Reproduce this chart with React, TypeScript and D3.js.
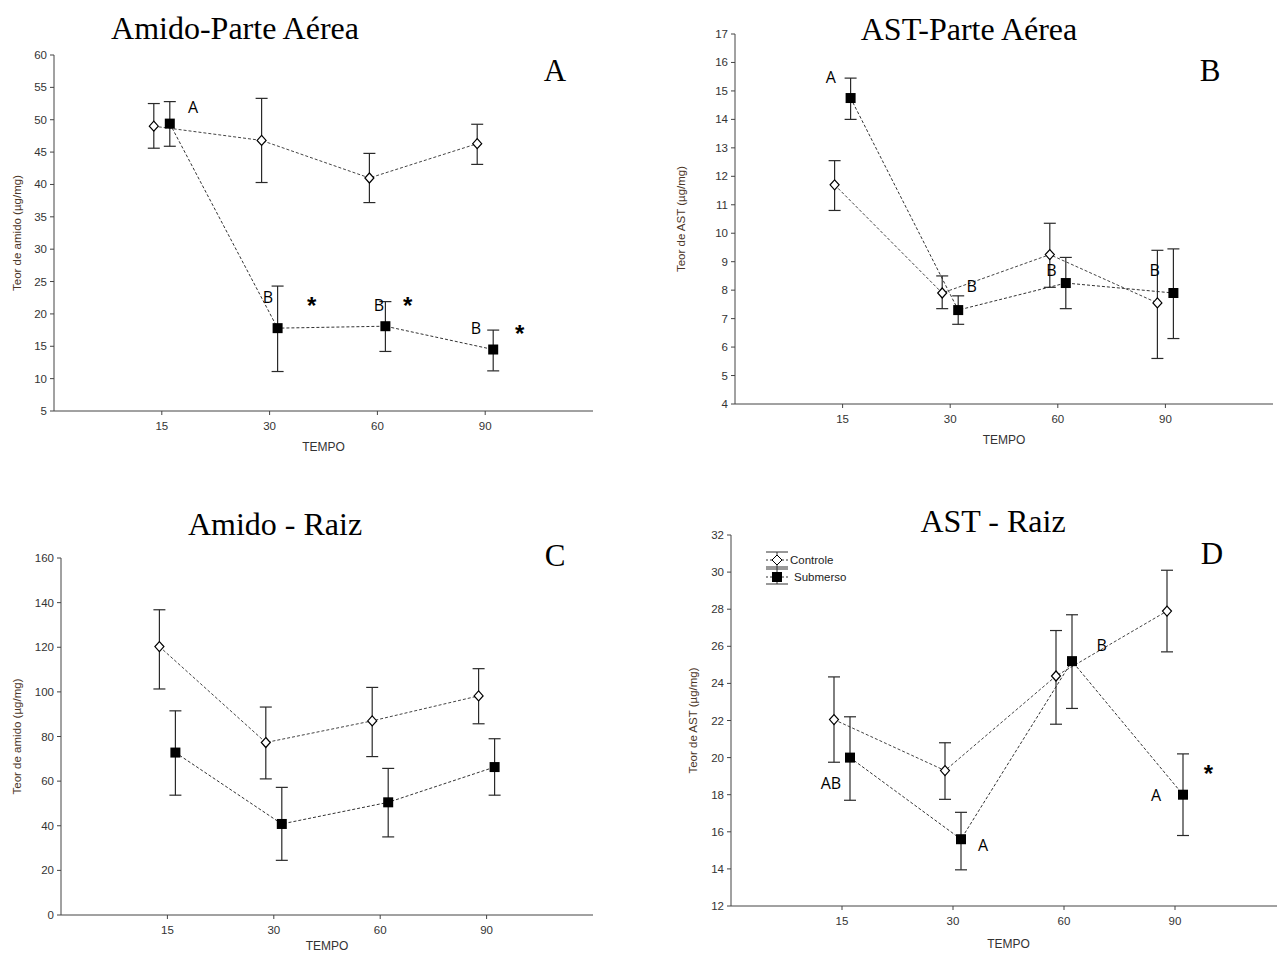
import React from "react";
import * as d3 from "d3";

// tempo (dias)
const days = ["15", "30", "60", "90"];

// A - Amido, parte aérea
const amidoAereaCtrl = [49.0, 46.8, 41.0, 46.3];
const amidoAereaCtrlLo = [45.6, 40.3, 37.2, 43.1];
const amidoAereaCtrlHi = [52.5, 53.3, 44.8, 49.3];
const amidoAereaSub = [49.4, 17.8, 18.1, 14.5];
const amidoAereaSubLo = [45.9, 11.1, 14.2, 11.2];
const amidoAereaSubHi = [52.8, 24.3, 21.9, 17.5];

// B - AST, parte aérea
const astAereaCtrl = [11.7, 7.9, 9.25, 7.55];
const astAereaCtrlLo = [10.8, 7.35, 8.1, 5.6];
const astAereaCtrlHi = [12.55, 8.5, 10.35, 9.4];
const astAereaSub = [14.75, 7.3, 8.25, 7.9];
const astAereaSubLo = [14.0, 6.8, 7.35, 6.3];
const astAereaSubHi = [15.45, 7.8, 9.15, 9.45];

// C - Amido, raiz
const amidoRaizCtrl = [120.3, 77.3, 87.0, 98.2];
const amidoRaizCtrlLo = [101.3, 61.0, 71.0, 85.7];
const amidoRaizCtrlHi = [136.8, 93.2, 102.0, 110.4];
const amidoRaizSub = [72.8, 40.8, 50.5, 66.3];
const amidoRaizSubLo = [53.7, 24.5, 35.0, 53.7];
const amidoRaizSubHi = [91.5, 57.2, 65.7, 79.0];

// D - AST, raiz
const astRaizCtrl = [22.05, 19.3, 24.4, 27.9];
const astRaizCtrlLo = [19.75, 17.75, 21.8, 25.7];
const astRaizCtrlHi = [24.35, 20.8, 26.85, 30.1];
const astRaizSub = [20.0, 15.6, 25.2, 18.0];
const astRaizSubLo = [17.7, 13.95, 22.65, 15.8];
const astRaizSubHi = [22.2, 17.05, 27.7, 20.2];

// letras / asteriscos: [posição no eixo x (categoria), valor y, texto]
const notesA: [number, number, string][] = [
  [1.29, 52, "A"], [1.985, 22.6, "B"], [2.39, 21.7, "*"],
  [3.015, 21.4, "B"], [3.28, 21.7, "*"], [3.915, 17.8, "B"], [4.32, 17.5, "*"],
];
const notesB: [number, number, string][] = [
  [0.89, 15.49, "A"], [2.2, 8.15, "B"], [2.94, 8.71, "B"], [3.9, 8.71, "B"],
];
const notesC: [number, number, string][] = [];
const notesD: [number, number, string][] = [
  [0.9, 18.63, "AB"], [2.27, 15.29, "A"], [3.34, 26.07, "B"],
  [3.83, 17.98, "A"], [4.3, 19.33, "*"],
];

const serif = "'Liberation Serif', 'Times New Roman', serif";
const sans = "'Liberation Sans', Arial, sans-serif";

type PanelProps = {
  left: number; right: number; top: number; bottom: number;
  yDomain: [number, number]; yStep: number;
  title: string; titleX: number; titleY: number;
  letter: string; letterX: number; letterY: number;
  yLabel: string; yLabelX: number; xLabelDy: number;
  ctrl: number[]; ctrlLo: number[]; ctrlHi: number[];
  sub: number[]; subLo: number[]; subHi: number[];
  notes: [number, number, string][];
};

const Panel = (p: PanelProps) => {
  const x = d3.scaleLinear().domain([0, 5]).range([p.left, p.right]);
  const y = d3.scaleLinear().domain(p.yDomain).range([p.bottom, p.top]);
  const yTicks = d3.range(p.yDomain[0], p.yDomain[1] + 0.001, p.yStep);
  const off = 8;
  const line = d3.line<[number, number]>().x(d => d[0]).y(d => d[1]);
  const ctrlPts = p.ctrl.map((v, i) => [x(i + 1) - off, y(v)] as [number, number]);
  const subPts = p.sub.map((v, i) => [x(i + 1) + off, y(v)] as [number, number]);
  const cap = 6;

  const errBars = (pts: [number, number][], lo: number[], hi: number[]) =>
    pts.map((pt, i) => (
      <g key={i} stroke="#2a2a2a" strokeWidth={1.2}>
        <line x1={pt[0]} x2={pt[0]} y1={y(lo[i])} y2={y(hi[i])} />
        <line x1={pt[0] - cap} x2={pt[0] + cap} y1={y(lo[i])} y2={y(lo[i])} />
        <line x1={pt[0] - cap} x2={pt[0] + cap} y1={y(hi[i])} y2={y(hi[i])} />
      </g>
    ));

  return (
    <g>
      <text x={p.titleX} y={p.titleY} textAnchor="middle" fontFamily={serif} fontSize={32} fill="#000">{p.title}</text>
      <text x={p.letterX} y={p.letterY} textAnchor="middle" fontFamily={serif} fontSize={31} fill="#000">{p.letter}</text>

      {/* eixos */}
      <line x1={p.left} x2={p.left} y1={p.top} y2={p.bottom} stroke="#444" />
      <line x1={p.left} x2={p.right} y1={p.bottom} y2={p.bottom} stroke="#444" />
      {yTicks.map(t => (
        <g key={t}>
          <line x1={p.left - 4} x2={p.left} y1={y(t)} y2={y(t)} stroke="#444" />
          <text x={p.left - 7} y={y(t)} dy="0.35em" textAnchor="end" fontFamily={sans} fontSize={11.5} fill="#333">{t}</text>
        </g>
      ))}
      {days.map((d, i) => (
        <g key={d}>
          <line x1={x(i + 1)} x2={x(i + 1)} y1={p.bottom} y2={p.bottom + 4} stroke="#444" />
          <text x={x(i + 1)} y={p.bottom + 19} textAnchor="middle" fontFamily={sans} fontSize={11.5} fill="#333">{d}</text>
        </g>
      ))}
      <text x={x(2.5)} y={p.bottom + p.xLabelDy} textAnchor="middle" fontFamily={sans} fontSize={12} fill="#333">TEMPO</text>
      <text transform={`translate(${p.yLabelX},${(p.top + p.bottom) / 2}) rotate(-90)`} textAnchor="middle" fontFamily={sans} fontSize={11.5} fill="#4a3526">{p.yLabel}</text>

      {/* linhas */}
      <path d={line(ctrlPts) || ""} fill="none" stroke="#444" strokeWidth={1} strokeDasharray="3,2" />
      <path d={line(subPts) || ""} fill="none" stroke="#333" strokeWidth={1} strokeDasharray="3,2" />

      {errBars(ctrlPts, p.ctrlLo, p.ctrlHi)}
      {errBars(subPts, p.subLo, p.subHi)}

      {ctrlPts.map((pt, i) => (
        <path key={i} d={`M${pt[0]},${pt[1] - 5}L${pt[0] + 4.5},${pt[1]}L${pt[0]},${pt[1] + 5}L${pt[0] - 4.5},${pt[1]}Z`} fill="#fff" stroke="#000" strokeWidth={1.2} />
      ))}
      {subPts.map((pt, i) => (
        <rect key={i} x={pt[0] - 5} y={pt[1] - 5} width={10} height={10} fill="#000" />
      ))}

      {p.notes.map((n, i) => (
        <text key={i} x={x(n[0])} y={y(n[1])} dy={n[2] === "*" ? "0.48em" : "0.36em"} textAnchor="middle"
          fontFamily={n[2] === "*" ? sans : "'Open Sans', sans-serif"} fontWeight={n[2] === "*" ? "bold" : "normal"}
          fontSize={n[2] === "*" ? 24 : 16} fill="#000">{n[2]}</text>
      ))}
    </g>
  );
};

const Legend = ({ lx, ly }: { lx: number; ly: number }) => (
  <g fontFamily={sans} fontSize={11.5} fill="#222">
    <g stroke="#333" strokeWidth={1}>
      <line x1={lx - 11} x2={lx + 11} y1={ly - 8} y2={ly - 8} />
      <line x1={lx - 11} x2={lx + 11} y1={ly + 7} y2={ly + 7} />
      <line x1={lx - 11} x2={lx + 11} y1={ly + 9} y2={ly + 9} />
      <line x1={lx - 11} x2={lx + 11} y1={ly + 24} y2={ly + 24} />
      <line x1={lx} x2={lx} y1={ly - 8} y2={ly + 24} />
      <line x1={lx - 11} x2={lx + 12} y1={ly} y2={ly} strokeDasharray="2,2" />
      <line x1={lx - 11} x2={lx + 12} y1={ly + 17} y2={ly + 17} strokeDasharray="2,2" />
    </g>
    <path d={`M${lx},${ly - 5}L${lx + 5},${ly}L${lx},${ly + 5}L${lx - 5},${ly}Z`} fill="#fff" stroke="#000" />
    <rect x={lx - 5} y={ly + 12} width={10} height={10} fill="#000" />
    <text x={lx + 13} y={ly} dy="0.35em">Controle</text>
    <text x={lx + 17} y={ly + 17} dy="0.35em">Submerso</text>
  </g>
);

export default function App() {
  return (
    <svg width={1277} height={953} style={{ position: "absolute", left: 0, top: 0, background: "#fff" }}>
      <Panel left={54} right={593} top={55} bottom={411} yDomain={[5, 60]} yStep={5}
        title="Amido-Parte Aérea" titleX={235} titleY={39} letter="A" letterX={555} letterY={81}
        yLabel="Teor de amido (µg/mg)" yLabelX={21} xLabelDy={40}
        ctrl={amidoAereaCtrl} ctrlLo={amidoAereaCtrlLo} ctrlHi={amidoAereaCtrlHi}
        sub={amidoAereaSub} subLo={amidoAereaSubLo} subHi={amidoAereaSubHi} notes={notesA} />
      <Panel left={735} right={1273} top={34} bottom={404} yDomain={[4, 17]} yStep={1}
        title="AST-Parte Aérea" titleX={969} titleY={40} letter="B" letterX={1210} letterY={81}
        yLabel="Teor de AST (µg/mg)" yLabelX={685} xLabelDy={40}
        ctrl={astAereaCtrl} ctrlLo={astAereaCtrlLo} ctrlHi={astAereaCtrlHi}
        sub={astAereaSub} subLo={astAereaSubLo} subHi={astAereaSubHi} notes={notesB} />
      <Panel left={61} right={593} top={558} bottom={915} yDomain={[0, 160]} yStep={20}
        title="Amido - Raiz" titleX={275} titleY={535} letter="C" letterX={555} letterY={566}
        yLabel="Teor de amido (µg/mg)" yLabelX={21} xLabelDy={35}
        ctrl={amidoRaizCtrl} ctrlLo={amidoRaizCtrlLo} ctrlHi={amidoRaizCtrlHi}
        sub={amidoRaizSub} subLo={amidoRaizSubLo} subHi={amidoRaizSubHi} notes={notesC} />
      <Panel left={731} right={1286} top={535} bottom={906} yDomain={[12, 32]} yStep={2}
        title="AST - Raiz" titleX={993} titleY={532} letter="D" letterX={1212} letterY={564}
        yLabel="Teor de AST (µg/mg)" yLabelX={697} xLabelDy={42}
        ctrl={astRaizCtrl} ctrlLo={astRaizCtrlLo} ctrlHi={astRaizCtrlHi}
        sub={astRaizSub} subLo={astRaizSubLo} subHi={astRaizSubHi} notes={notesD} />
      <Legend lx={777} ly={560} />
    </svg>
  );
}
